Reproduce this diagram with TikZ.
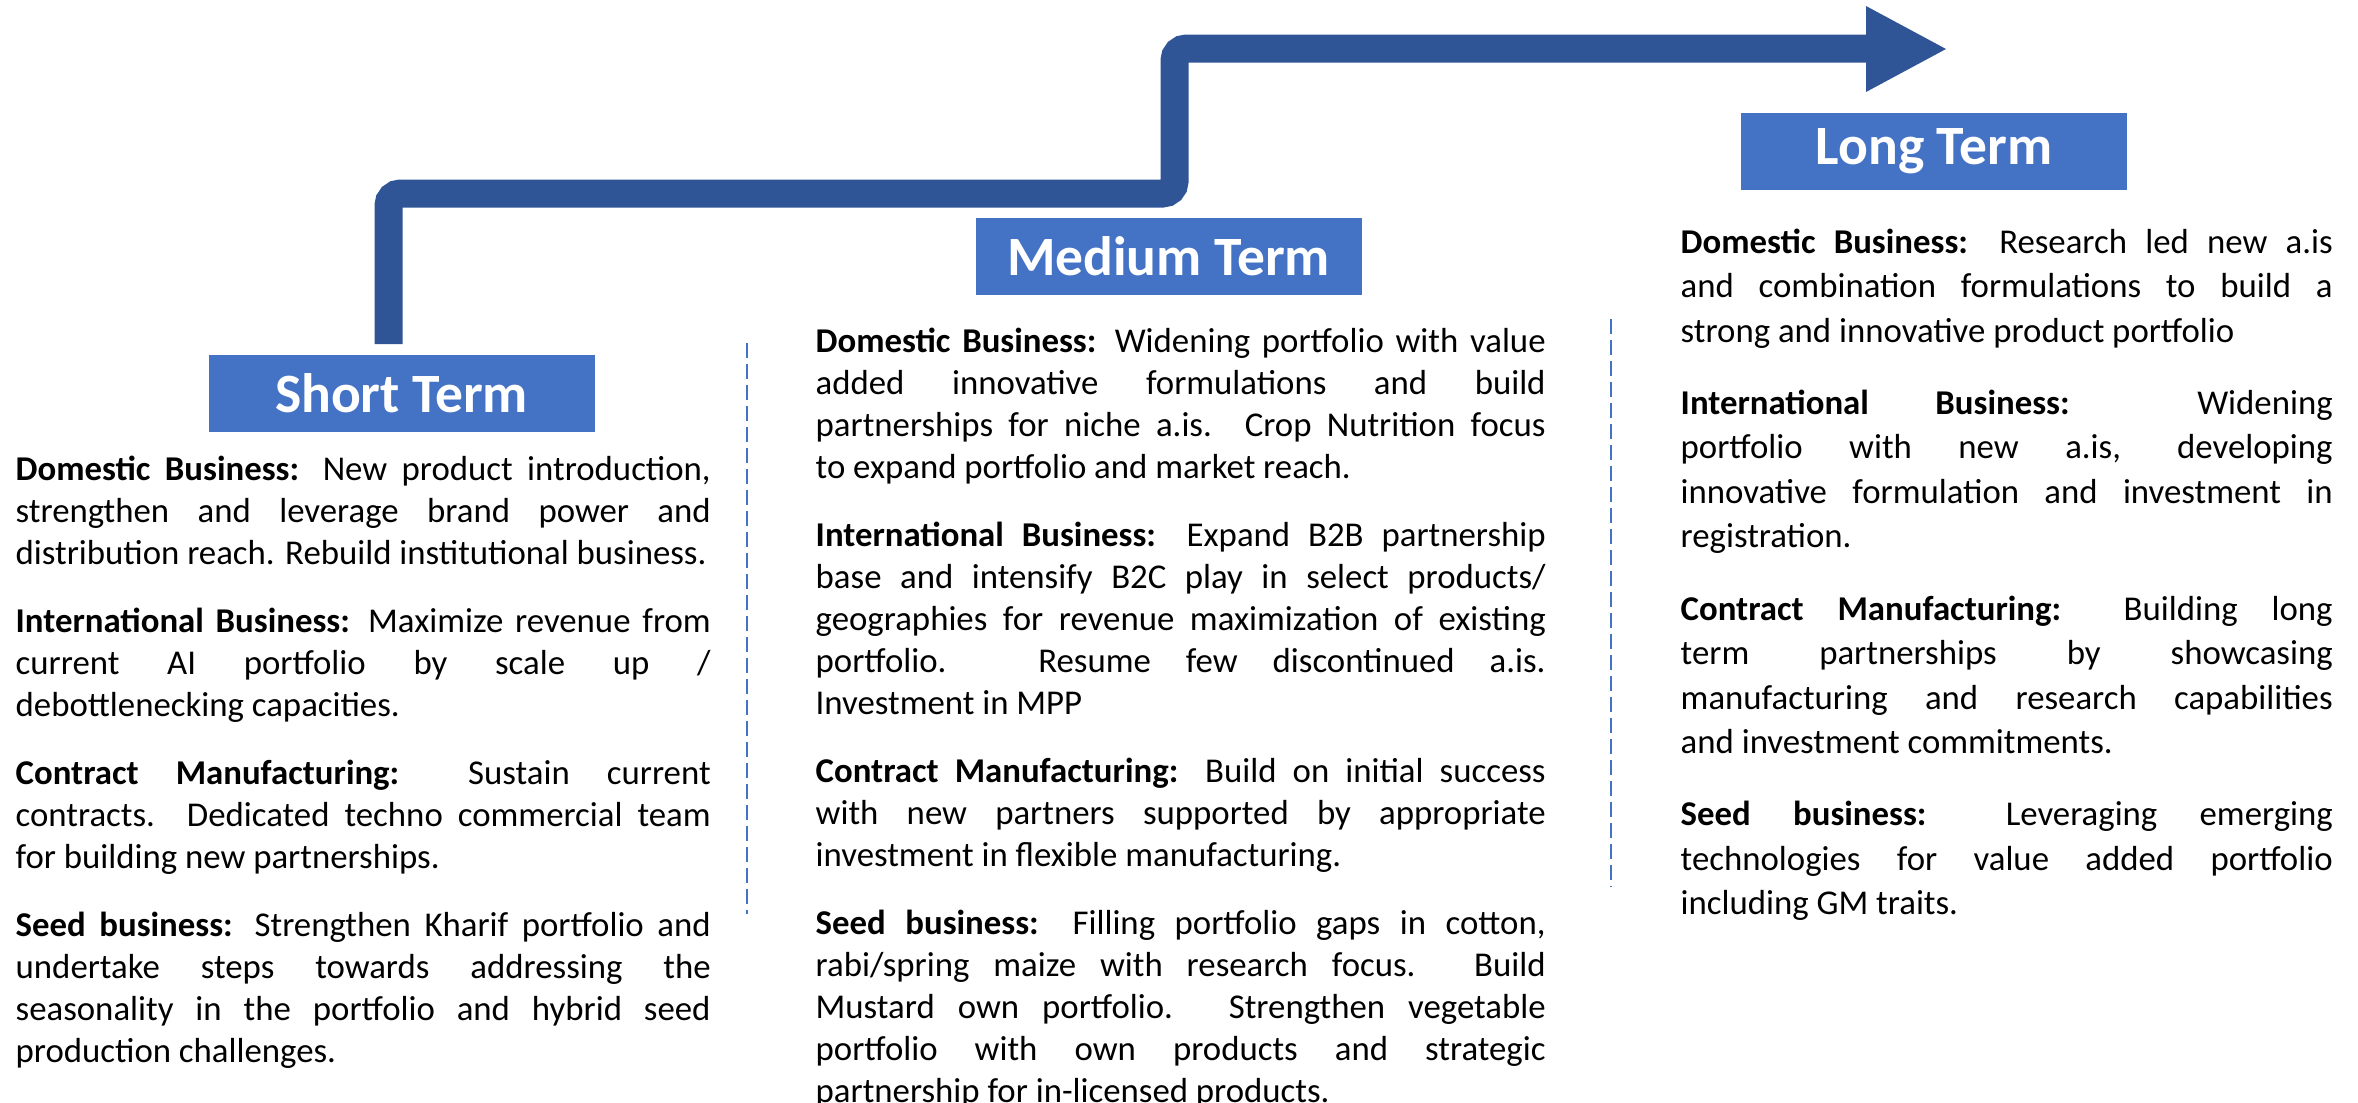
\documentclass[tikz,border=0pt]{standalone}
\usepackage{fontspec}
\setmainfont{Carlito}
\usetikzlibrary{positioning}
\definecolor{termblue}{HTML}{4472C4}
\definecolor{arrowblue}{HTML}{2F5597}
\newcommand{\planfont}[1]{\fontsize{9.9}{#1}\selectfont\hyphenpenalty=10000\exhyphenpenalty=10000\tolerance=9999\relax}
\newcommand{\gap}{\par\vskip 7.4pt}

\begin{document}
\begin{tikzpicture}[
  termbox/.style={fill=termblue,text=white,inner sep=0pt,minimum width=3.86cm,minimum height=0.77cm,font=\fontsize{15.8}{18}\selectfont\bfseries},
  plan/.style={anchor=north west,inner sep=0pt,align=justify,font=\planfont{11.95}},
  divider/.style={termblue,dash pattern=on 0.15cm off 0.06cm,line width=0.7pt}
]
\useasboundingbox (0,0) rectangle (23.58,-11.02);

% stepped arrow
\coordinate (s0) at (3.885,-3.44);
\coordinate (s1) at (3.885,-1.935);
\coordinate (s2) at (11.745,-1.935);
\coordinate (s3) at (11.745,-0.485);
\coordinate (s4) at (18.70,-0.485);
\draw[arrowblue,line width=0.28cm,rounded corners=0.12cm](s0)--(s1)--(s2)--(s3)--(s4);
\fill[arrowblue](18.66,-0.06)--(19.46,-0.49)--(18.66,-0.92)--cycle;

% term headers
\node[termbox](short) at (4.015,-3.93){Short Term};
\node[termbox](medium) at (11.685,-2.56){Medium Term};
\node[termbox](long) at (19.34,-1.51){Long Term};

% column dividers
\draw[divider](7.47,-3.43)--(7.47,-9.14);
\draw[divider](16.11,-3.19)--(16.11,-8.87);

% short term plan
\node[plan,text width=6.95cm](shorttxt) at (0.15,-4.55){%
\textbf{Domestic Business:} New product introduction, \linebreak strengthen and leverage brand power and \linebreak distribution reach. Rebuild institutional business.\gap
\textbf{International Business:} Maximize revenue from \linebreak current AI portfolio by scale up / \linebreak debottlenecking capacities.\gap
\textbf{Contract Manufacturing:} Sustain current \linebreak contracts. Dedicated techno commercial team \linebreak for building new partnerships.\gap
\textbf{Seed business:} Strengthen Kharif portfolio and \linebreak undertake steps towards addressing the \linebreak seasonality in the portfolio and hybrid seed \linebreak production challenges.};

% medium term plan
\node[plan,text width=7.30cm](mediumtxt) at (8.15,-3.27){%
\textbf{Domestic Business:} Widening portfolio with value \linebreak added innovative formulations and build \linebreak partnerships for niche a.is. Crop Nutrition focus \linebreak to expand portfolio and market reach.\gap
\textbf{International Business:} Expand B2B partnership \linebreak base and intensify B2C play in select products/ \linebreak geographies for revenue maximization of existing \linebreak portfolio. Resume few discontinued a.is. \linebreak Investment in MPP\gap
\textbf{Contract Manufacturing:} Build on initial success \linebreak with new partners supported by appropriate \linebreak investment in flexible manufacturing.\gap
\textbf{Seed business:} Filling portfolio gaps in cotton, \linebreak rabi/spring maize with research focus. Build \linebreak Mustard own portfolio. Strengthen vegetable \linebreak portfolio with own products and strategic \linebreak partnership for in-licensed products.};

% long term plan
\node[plan,text width=6.52cm,font=\planfont{12.66}](longtxt) at (16.80,-2.28){%
\textbf{Domestic Business:} Research led new a.is \linebreak and combination formulations to build a \linebreak strong and innovative product portfolio\par\vskip 7.9pt
\textbf{International Business:} Widening \linebreak portfolio with new a.is, developing \linebreak innovative formulation and investment in \linebreak registration.\par\vskip 7.9pt
\textbf{Contract Manufacturing:} Building long \linebreak term partnerships by showcasing \linebreak manufacturing and research capabilities \linebreak and investment commitments.\par\vskip 7.9pt
\textbf{Seed business:} Leveraging emerging \linebreak technologies for value added portfolio \linebreak including GM traits.};
\end{tikzpicture}
\end{document}
